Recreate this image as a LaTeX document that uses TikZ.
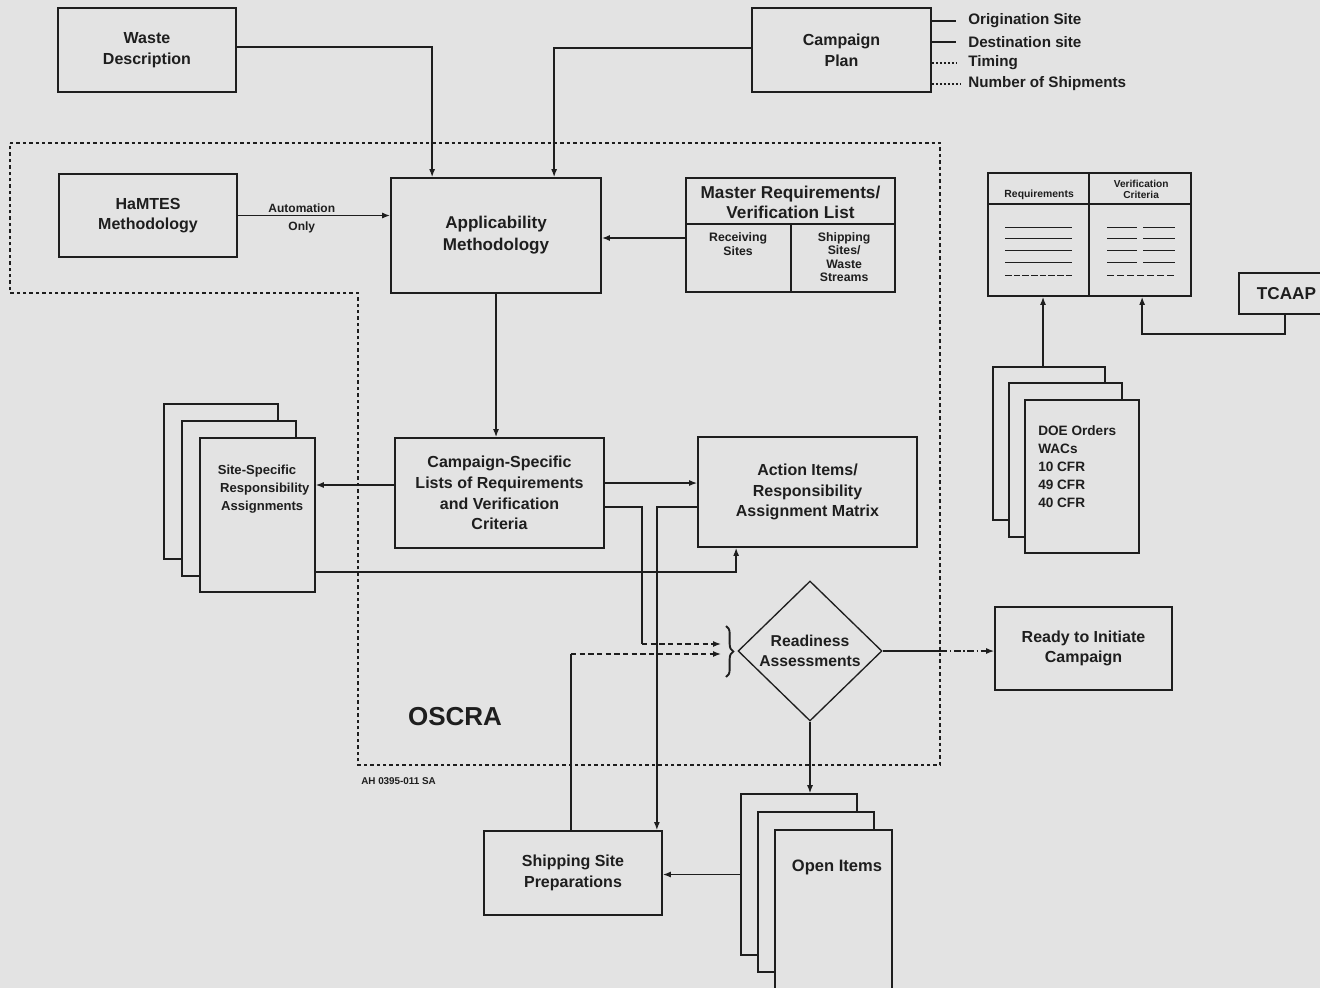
\documentclass[tikz,border=0pt]{standalone}
\usepackage{fontspec}
\setmainfont{Liberation Sans}
\usetikzlibrary{arrows.meta,shapes.geometric,calc,decorations.pathreplacing}
\definecolor{paper}{HTML}{E3E3E3}
\definecolor{ink}{HTML}{1E1E1E}
\newcommand{\fsz}[2]{\fontsize{#1}{#2}\selectfont\bfseries}
\begin{document}
\begin{tikzpicture}[x=0.75pt,y=-0.75pt,
  box/.style={draw=ink,line width=1.3pt,fill=paper,rectangle,inner sep=0pt,text=ink,align=center,font=\fsz{12}{15.5}},
  pagebox/.style={draw=ink,line width=1.2pt,fill=paper,rectangle,inner sep=0pt},
  conn/.style={draw=ink,line width=1pt},
  arr/.style={conn,-{Latex[length=6pt,width=4.5pt]}},
  dsh/.style={dash pattern=on 4pt off 2.5pt},
  region/.style={draw=ink,line width=1pt,dash pattern=on 2.6pt off 2.2pt},
  txt/.style={inner sep=0pt,text=ink,align=center,font=\fsz{12}{15.5}},
  sidetxt/.style={inner sep=0pt,text=ink,anchor=west,font=\fsz{11.4}{14}},
  rowline/.style={draw=ink,line width=0.9pt}
]
\fill[paper] (0,0) rectangle (1320,988);
\useasboundingbox (0,0) rectangle (1320,988);

% OSCRA region
\draw[region] (10,143) -- (940,143) -- (940,765) -- (358,765) -- (358,293) -- (10,293) -- cycle;

% main boxes
\node[box,minimum width=133.5pt,minimum height=63pt] (waste) at (147,50) {Waste\\Description};
\node[box,minimum width=134.25pt,minimum height=63pt] (plan) at (841.5,50) {Campaign\\Plan};
\node[box,minimum width=133.5pt,minimum height=62.25pt] (hamtes) at (148,215.5) {HaMTES\\Methodology};
\node[box,minimum width=157.5pt,minimum height=86.25pt,font=\fsz{12.8}{16.5}] (appl) at (496,235.5) {Applicability\\Methodology};
\node[box,minimum width=156.75pt,minimum height=85.5pt] (master) at (790.5,235) {};
\node[box,minimum width=156.75pt,minimum height=82.5pt] (camp) at (499.5,493) {Campaign-Specific\\Lists of Requirements\\and Verification\\Criteria};
\node[box,minimum width=164.25pt,minimum height=82.5pt] (action) at (807.5,492) {Action Items/\\Responsibility\\Assignment Matrix};
\node[box,minimum width=132.75pt,minimum height=62.25pt] (ready) at (1083.5,648.5) {Ready to Initiate\\Campaign};
\node[box,minimum width=133.5pt,minimum height=63pt] (ship) at (573,873) {Shipping Site\\Preparations};
\node[box,minimum width=152.25pt,minimum height=92.25pt] (reqtab) at (1089.5,234.5) {};
\node[box,minimum width=71.25pt,minimum height=30.75pt,font=\fsz{12.9}{15}] (tcaap) at (1286.5,293.5) {TCAAP};

% master list details
\draw[conn,line width=1.2pt] ($(master.north west)+(0,47)$) -- ($(master.north east)+(0,47)$);
\draw[conn,line width=1.2pt] ($(master.north west)+(106,47)$) -- ($(master.south west)+(106,0)$);
\node[txt,font=\fsz{12.9}{15}] (masterhead) at ($(master.north)+(0,25)$) {Master Requirements/\\Verification List};
\node[txt,font=\fsz{9.2}{9.8}] (recv) at ($(master.north west)+(53,67)$) {Receiving\\Sites};
\node[txt,font=\fsz{9.2}{9.8}] (shipsites) at ($(master.north west)+(159,80)$) {Shipping\\Sites/\\Waste\\Streams};

% requirements table details
\draw[conn,line width=1.2pt] ($(reqtab.north west)+(0,32)$) -- ($(reqtab.north east)+(0,32)$);
\draw[conn,line width=1.2pt] ($(reqtab.north west)+(102,0)$) -- ($(reqtab.south west)+(102,0)$);
\node[txt,font=\fsz{7.8}{8.5}] (reqhead) at ($(reqtab.north west)+(52,23)$) {Requirements};
\node[txt,font=\fsz{7.6}{8.2}] (verhead) at ($(reqtab.north west)+(154,17)$) {Verification\\Criteria};
\foreach \dy in {55,66,78,90}{
  \draw[rowline] ($(reqtab.north west)+(18,\dy)$) -- ++(67,0);
  \draw[rowline] ($(reqtab.north west)+(120,\dy)$) -- ++(30,0);
  \draw[rowline] ($(reqtab.north west)+(156,\dy)$) -- ++(32,0);
}
\draw[rowline,dash pattern=on 5pt off 1.5pt] ($(reqtab.north west)+(18,103)$) -- ++(67,0);
\draw[rowline,dash pattern=on 5pt off 2.5pt] ($(reqtab.north west)+(120,103)$) -- ++(68,0);

% stacks: site-specific
\node[pagebox,minimum width=85.5pt,minimum height=116.25pt] (siteA) at (221,481.5) {};
\node[pagebox,minimum width=85.5pt,minimum height=116.25pt] (siteB) at (239,498.5) {};
\node[pagebox,minimum width=86.25pt,minimum height=115.5pt] (siteC) at (257.5,515) {};
\node[txt,font=\fsz{9.8}{13.5}] (sitetxt) at (257,489) {Site-Specific\\\hspace*{1.2em}Responsibility\\\hspace*{0.8em}Assignments};

% stacks: DOE
\node[pagebox,minimum width=84pt,minimum height=114.75pt] (doeA) at (1049,443.5) {};
\node[pagebox,minimum width=84.75pt,minimum height=115.5pt] (doeB) at (1065.5,460) {};
\node[pagebox,minimum width=85.5pt,minimum height=114.75pt] (doeC) at (1082,476.5) {};
\node[txt,align=left,anchor=west,font=\fsz{10.2}{13.5}] (doetxt) at (1038,467) {DOE Orders\\WACs\\10 CFR\\49 CFR\\40 CFR};

% stacks: open items
\node[pagebox,minimum width=87pt,minimum height=120.75pt] (openA) at (799,874.5) {};
\node[pagebox,minimum width=87pt,minimum height=120pt] (openB) at (816,892) {};
\node[pagebox,minimum width=87.75pt,minimum height=121.5pt] (openC) at (833.5,911) {};
\node[txt,font=\fsz{12.4}{15}] (opentxt) at (837,867) {Open Items};

% readiness diamond
\node[diamond,draw=ink,line width=1pt,fill=paper,aspect=1,inner sep=0pt,minimum width=108pt,minimum height=105pt,text=ink,align=center,font=\fsz{11.8}{15.5}] (ra) at (810,651) {Readiness\\Assessments};
\draw[ink,line width=1.4pt,decorate,decoration={brace,amplitude=5.5pt}] (726,626) -- (726,677);
\coordinate (in1) at (721,644);
\coordinate (in2) at (721,654);

% campaign plan attributes
\node[sidetxt] (orig) at (968,21) {Origination Site};
\node[sidetxt] (dest) at (968,42) {Destination site};
\node[sidetxt] (timing) at (968,63) {Timing};
\node[sidetxt] (nship) at (968,84) {Number of Shipments};
\draw[conn,line width=0.8pt] (orig.west -| plan.east) -- ($(orig.west)+(-12,0)$);
\draw[conn,line width=0.8pt] (dest.west -| plan.east) -- ($(dest.west)+(-12,0)$);
\draw[conn,line width=0.8pt,dash pattern=on 1.5pt off 1.5pt] (timing.west -| plan.east) -- ($(timing.west)+(-12,0)$);
\draw[conn,line width=0.8pt,dash pattern=on 1.5pt off 1.5pt] (nship.west -| plan.east) -- ($(nship.west)+(-8,0)$);

% labels
\node[txt,font=\fsz{19.5}{22}] (oscra) at (455,717) {OSCRA};
\node[txt,anchor=west,font=\fsz{7.4}{9}] (ahcode) at (361,781) {AH 0395-011 SA};

% connectors
\draw[arr] ($(waste.east)+(0,-3)$) -| ($(appl.north west)+(42,0)$);
\draw[arr] ($(plan.west)+(0,-2)$) -| ($(appl.north west)+(164,0)$);
\draw[arr] (hamtes.east) -- (hamtes.east -| appl.west)
  node[pos=0.42,above=1.5pt,txt,font=\fsz{9}{10}] (autolbl) {Automation}
  node[pos=0.42,below=4pt,txt,font=\fsz{9}{10}] (onlylbl) {Only};
\coordinate (m1) at ($(master.west)+(0,3)$);
\draw[arr] (m1) -- (m1 -| appl.east);
\draw[arr] (appl.south) -- (appl.south |- camp.north);
\coordinate (c1) at ($(camp.west)+(0,-8)$);
\draw[arr] (c1) -- (c1 -| siteC.east);
\coordinate (c2) at ($(camp.east)+(0,-10)$);
\draw[arr] (c2) -- (c2 -| action.west);
\draw[arr] ($(siteC.east)+(0,57)$) -| ($(action.south west)+(39,0)$);
\draw[conn] ($(camp.east)+(0,14)$) -| ($(in1)+(-79,0)$) coordinate (k1);
\draw[arr,dsh] (k1) -- (in1);
\draw[arr] ($(action.west)+(0,15)$) -| ($(ship.north east)+(-6,0)$);
\coordinate (k2) at ($(in2)+(-150,0)$);
\draw[conn] (k2 |- ship.north) -- (k2);
\draw[arr,dsh] (k2) -- (in2);
\draw[conn] (ra.east) -- ++(58,0) coordinate (rb);
\draw[arr,dash pattern=on 5pt off 2pt on 1pt off 2pt] (rb) -- (rb -| ready.west);
\draw[arr] (ra.south) -- (ra.south |- openA.north);
\draw[arr] (openA.west) -- (openA.west -| ship.east);
\coordinate (d1) at ($(doeA.north)+(-6,0)$);
\draw[arr] (d1) -- (d1 |- reqtab.south);
\draw[arr] ($(tcaap.south west)+(47,0)$) -- ++(0,19) -| ($(reqtab.south west)+(155,0)$);
\end{tikzpicture}
\end{document}
